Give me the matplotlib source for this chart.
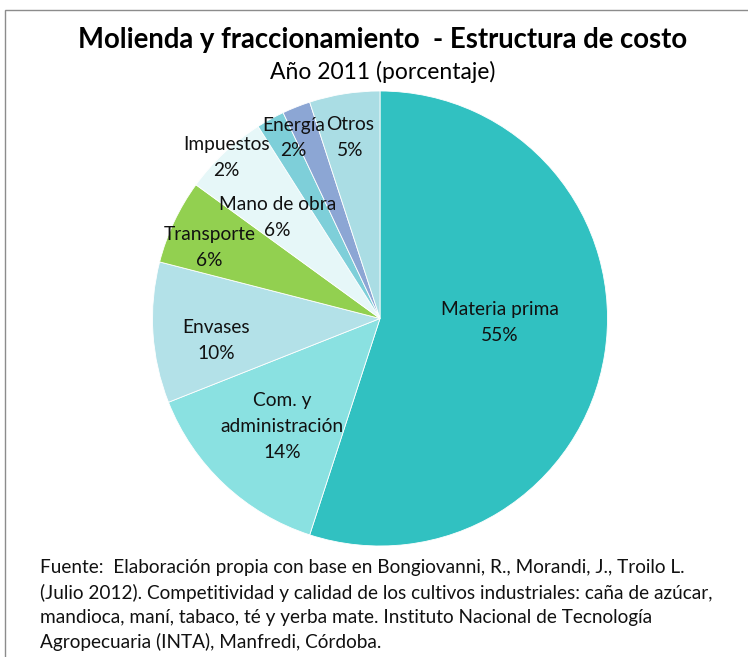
import matplotlib
matplotlib.use("Agg")
import matplotlib.pyplot as plt
from matplotlib.patches import Rectangle

categories = ["Materia prima", "Com. y\nadministración", "Envases", "Transporte",
              "Mano de obra", "Impuestos", "Energía", "Otros"]
values = [55, 14, 10, 6, 6, 2, 2, 5]
colors = ["#31C1C1", "#8AE1E1", "#B3E1E8", "#92D050", "#E6F7F8", "#7ECFD9", "#8CA6D4", "#AADDE4"]
label_pos = [(0.526, -0.01), (-0.43, -0.47), (-0.72, -0.088), (-0.75, 0.32),
             (-0.45, 0.45), (-0.675, 0.715), (-0.38, 0.80), (-0.13, 0.80)]

title = "Molienda y fraccionamiento  - Estructura de costo"
subtitle = "Año 2011 (porcentaje)"
footer = ("Fuente:  Elaboración propia con base en Bongiovanni, R., Morandi, J., Troilo L.\n"
          "(Julio 2012). Competitividad y calidad de los cultivos industriales: caña de azúcar,\n"
          "mandioca, maní, tabaco, té y yerba mate. Instituto Nacional de Tecnología\n"
          "Agropecuaria (INTA), Manfredi, Córdoba.")

W, H = 748, 657
fig = plt.figure(figsize=(W / 100, H / 100), dpi=100)
FONT = ["Lato", "DejaVu Sans"]

# frame
fig.patches.append(Rectangle((5 / W, -0.1), 1.2, (H - 10) / H + 0.1, transform=fig.transFigure,
                             fill=False, edgecolor="#8C8C8C", linewidth=1.0))

cx, cy, R = 380, 318.5, 227.5
ax = fig.add_axes([(cx - R) / W, (H - cy - R) / H, 2 * R / W, 2 * R / H])
ax.pie(values, colors=colors, startangle=90, counterclock=False,
       wedgeprops=dict(edgecolor="white", linewidth=0.6))
ax.set_xlim(-1, 1)
ax.set_ylim(-1, 1)
ax.set_aspect("auto")
ax.axis("off")

step = 26 / R  # line step in radius units
for cat, v, (x, y) in zip(categories, values, label_pos):
    lines = cat.split("\n") + [f"{v}%"]
    n = len(lines)
    for i, ln in enumerate(lines):
        yy = y + (n - 1) / 2 * step - i * step
        ax.text(x, yy, ln, ha="center", va="center_baseline", fontsize=13.8,
                family=FONT, color="#111111")

fig.text(383 / W, 1 - 40 / H, title, ha="center", va="center", fontsize=19.8,
         fontweight="bold", family=FONT, color="black")
fig.text(383 / W, 1 - 72 / H, subtitle, ha="center", va="center", fontsize=16.5,
         family=FONT, color="black")
fig.text(40 / W, 1 - 605 / H, footer, ha="left", va="center", fontsize=13.7,
         family=FONT, color="#111111", linespacing=1.5)

fig.savefig("out.png", dpi=100)
